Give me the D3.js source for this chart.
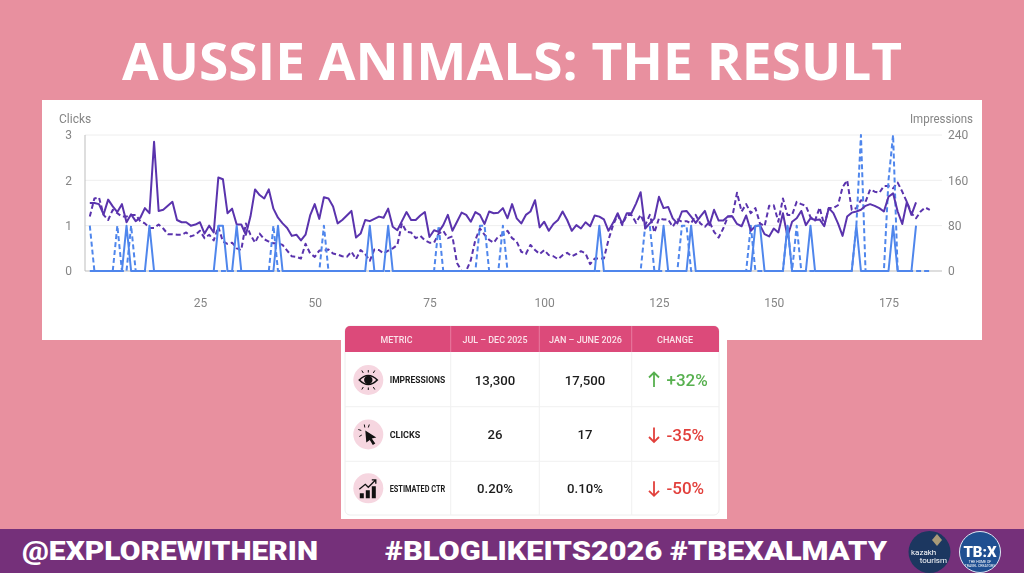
<!DOCTYPE html>
<html><head><meta charset="utf-8">
<script src="https://cdn.jsdelivr.net/npm/d3@7/dist/d3.min.js"></script>
<style>
html,body{margin:0;padding:0;background:#e8909f;overflow:hidden}
svg{display:block}
text{font-family:Roboto,"Open Sans",sans-serif}
.soft{filter:blur(0.4px)}
</style></head><body><svg id="c" width="1024" height="573"></svg>
<script>
const impressionsCurrent=[120,120,118,100,126,114,104,118,86,100,88,94,111,102,228,106,108,115,122,90,86,86,80,82,86,66,80,68,165,162,102,110,82,82,64,96,144,134,128,144,110,94,84,76,62,64,54,64,98,118,92,130,128,114,84,90,98,106,59,
66,90,88,92,96,94,110,78,72,88,104,90,90,98,104,60,72,69,81,99,71,87,103,99,87,104,99,83,105,102,103,111,93,118,93,84,99,105,125,77,87,71,83,90,105,90,71,81,75,86,79,98,96,91,71,85,102,83,102,102,119,139,75,84,93,131,111,113,
93,84,105,106,96,85,96,106,81,108,89,89,96,96,83,79,98,71,79,81,65,61,75,68,102,61,87,93,106,81,93,90,91,79,111,102,84,62,96,103,105,108,115,118,115,111,105,131,137,105,83,122,99,121];
const impressionsPrevious=[96,128,130,99,90,108,102,96,96,99,99,88,84,76,76,82,75,65,65,64,64,68,61,64,71,58,64,54,78,52,48,50,40,37,84,64,50,66,56,52,49,49,46,36,26,25,22,48,31,25,36,36,38,31,29,26,25,34,21,37,
30,18,38,37,31,36,40,46,84,69,68,58,62,54,50,50,66,71,58,61,14,0,0,19,55,75,64,55,50,61,64,71,58,52,34,30,46,37,30,37,28,26,21,28,32,26,30,35,31,12,22,22,22,55,81,99,81,99,99,85,99,81,99,68,93,91,91,78,91,
87,88,84,99,84,78,87,69,59,75,96,97,138,105,118,102,111,84,79,115,116,87,128,99,99,122,118,115,95,89,112,81,111,111,116,148,160,108,111,125,122,144,140,138,150,150,146,156,140,122,102,93,105,112,108];
const clickDaysCurrent=[9,14,29,30,33,42,62,66,112,126,132,146,147,153,158,168,176,181];
const clickCountsCurrent=[1,1,1,1,1,1,1,1,1,1,1,1,1,1,1,1,1,1];
const clickDaysPrevious=[1,7,10,41,52,77,86,87,91,122,123,130,131,145,153,155,168,169,175,176];
const clickCountsPrevious=[1,1,1,1,1,1,1,1,1,1,1,1,1,1,1,1,1,3,2,3];
const xTicks=[25,50,75,100,125,150,175];
const clickTicks=[0,1,2,3];
const impressionTicks=[0,80,160,240];
const tableHeaders=["METRIC","JUL – DEC 2025","JAN – JUNE 2026","CHANGE"];
const metricNames=["IMPRESSIONS","CLICKS","ESTIMATED CTR"];
const periodOne=["13,300","26","0.20%"];
const periodTwo=["17,500","17","0.10%"];
const changes=["+32%","-35%","-50%"];

const svg=d3.select("#c");
svg.append("rect").attr("width",1024).attr("height",573).attr("fill","#e8909f");
svg.append("text").attr("x",512).attr("y",80).attr("text-anchor","middle").attr("fill","#fff")
  .attr("font-size",52).attr("font-weight",700).style("font-family","'Open Sans'")
  .attr("textLength",780).attr("lengthAdjust","spacingAndGlyphs").text("AUSSIE ANIMALS: THE RESULT");

svg.append("rect").attr("x",42).attr("y",100).attr("width",940).attr("height",240).attr("fill","#fff");
svg.append("rect").attr("x",341).attr("y",340).attr("width",386).attr("height",179).attr("fill","#fff");

const x=d3.scaleLinear().domain([1,184]).range([89.8,929.8]);
const yL=d3.scaleLinear().domain([0,3]).range([271,135]);
const yR=d3.scaleLinear().domain([0,240]).range([271,135]);
const gray="#858585";
const g=svg.append("g").attr("class","soft");
g.append("g").selectAll("line").data(clickTicks.slice(1)).join("line")
 .attr("x1",85).attr("x2",942).attr("y1",d=>yL(d)).attr("y2",d=>yL(d)).attr("stroke","#eeeeee").attr("stroke-width",1);
g.append("line").attr("x1",85).attr("x2",85).attr("y1",135).attr("y2",271).attr("stroke","#bdbdbd").attr("stroke-width",1);
g.append("line").attr("x1",85).attr("x2",942).attr("y1",271).attr("y2",271).attr("stroke","#bdbdbd").attr("stroke-width",1);

function axisStyle(sel){sel.select(".domain").remove();sel.selectAll("text").attr("fill",gray).attr("font-size",12).style("font-family","Roboto");}
g.append("g").attr("transform","translate(85,0)").call(d3.axisLeft(yL).tickValues(clickTicks).tickSize(0).tickPadding(13).tickFormat(d3.format("d"))).call(axisStyle);
g.append("g").attr("transform","translate(942,0)").call(d3.axisRight(yR).tickValues(impressionTicks).tickSize(0).tickPadding(6).tickFormat(d3.format("d"))).call(axisStyle);
g.append("g").attr("transform","translate(0,271)").call(d3.axisBottom(x).tickValues(xTicks).tickSize(0).tickPadding(27).tickFormat(d3.format("d"))).call(axisStyle);
g.append("text").attr("x",59).attr("y",122.5).attr("fill",gray).attr("font-size",12).text("Clicks");
g.append("text").attr("x",910).attr("y",122.5).attr("fill",gray).attr("font-size",12).attr("textLength",63).attr("lengthAdjust","spacingAndGlyphs").text("Impressions");

const blue="#4f86ec",purple="#5a33ad";
const lineL=d3.line().x((d,i)=>x(i+1)).y(d=>yL(d));
const lineR=d3.line().x((d,i)=>x(i+1)).y(d=>yR(d));
const expand=(days,counts,n)=>d3.range(1,n+1).map(d=>{const k=days.indexOf(d);return k<0?0:counts[k];});
const clicksCurrent=expand(clickDaysCurrent,clickCountsCurrent,181);
const clicksPrevious=expand(clickDaysPrevious,clickCountsPrevious,184);
const marks=g.append("g").attr("fill","none").attr("stroke-linejoin","round");
marks.append("path").attr("d",lineR(impressionsPrevious)).attr("stroke",purple).attr("stroke-width",2).attr("stroke-dasharray","5,3");
marks.append("path").attr("d",lineL(clicksPrevious)).attr("stroke",blue).attr("stroke-width",2).attr("stroke-dasharray","5,3");
marks.append("path").attr("d",lineR(impressionsCurrent)).attr("stroke",purple).attr("stroke-width",2);
marks.append("path").attr("d",lineL(clicksCurrent)).attr("stroke",blue).attr("stroke-width",2);

const cols=[345,450.7,539.3,631.7,719];
const rowsY=[352,406.7,461.3,515];
const tg=svg.append("g").attr("class","soft");
tg.append("rect").attr("x",345).attr("y",326).attr("width",374).attr("height",189).attr("rx",5).attr("fill","#fff").attr("stroke","#eeeeee");
tg.append("path").attr("d","M345 352V331a5 5 0 0 1 5-5H714a5 5 0 0 1 5 5V352Z").attr("fill","#dc4a7a");
cols.slice(1,4).forEach(c=>{
  tg.append("line").attr("x1",c).attr("x2",c).attr("y1",326).attr("y2",352).attr("stroke","#e87a9f");
  tg.append("line").attr("x1",c).attr("x2",c).attr("y1",352).attr("y2",515).attr("stroke","#f0f0f0");
});
rowsY.slice(1,3).forEach(r=>tg.append("line").attr("x1",345).attr("x2",719).attr("y1",r).attr("y2",r).attr("stroke","#f0f0f0"));
const colCenters=[396.5,495,585.5,675];
const headerWidths=[32,65,73,36];
tableHeaders.forEach((t,i)=>tg.append("text").attr("x",colCenters[i]).attr("y",339.5).attr("dy","0.35em").attr("text-anchor","middle")
  .attr("fill","#fbe3ea").attr("font-size",9.8).attr("font-weight",500).attr("textLength",headerWidths[i]).attr("lengthAdjust","spacingAndGlyphs").text(t));
const rowMid=[380,434.5,488.3];
metricNames.forEach((t,i)=>{
  const y=rowMid[i];
  tg.append("circle").attr("cx",368.3).attr("cy",y).attr("r",15).attr("fill","#f6d6e0");
  tg.append("text").attr("x",389.7).attr("y",y).attr("dy","0.35em").attr("fill","#1c1c1c").attr("font-size",9.8).attr("font-weight",700)
    .attr("textLength",i==1?30.5:55.5).attr("lengthAdjust","spacingAndGlyphs").text(t);
  tg.append("text").attr("x",colCenters[1]).attr("y",y).attr("dy","0.36em").attr("text-anchor","middle").attr("fill","#1c1c1c").attr("font-size",13.2).attr("font-weight",500).text(periodOne[i]);
  tg.append("text").attr("x",colCenters[2]-0.5).attr("y",y).attr("dy","0.36em").attr("text-anchor","middle").attr("fill","#1c1c1c").attr("font-size",13.2).attr("font-weight",500).text(periodTwo[i]);
  const col=i==0?"#57b04f":"#e2403c";
  tg.append("text").attr("x",666.5).attr("y",y).attr("dy","0.36em").attr("fill",col).attr("font-size",17).attr("font-weight",500).text(changes[i]);
  const up=i==0;
  tg.append("path").attr("d",up?`M654 ${y-7.5}V${y+7} M649 ${y-2.5}L654 ${y-7.5}L659 ${y-2.5}`:`M654 ${y-7}V${y+7.5} M649 ${y+2.5}L654 ${y+7.5}L659 ${y+2.5}`)
    .attr("fill","none").attr("stroke",col).attr("stroke-width",1.8);
});
const ink="#111";
const eye=tg.append("g").attr("transform","translate(368.3,380)");
eye.append("path").attr("d","M-9 0Q0 -9 9 0Q0 9 -9 0Z").attr("fill","none").attr("stroke",ink).attr("stroke-width",1.6);
eye.append("circle").attr("r",4.2).attr("fill",ink);
eye.append("path").attr("d","M0 -7.5V-10M-5 -7L-6.5 -9.5M5 -7L6.5 -9.5M0 7.5V10M-5 7L-6.5 9.5M5 7L6.5 9.5").attr("stroke",ink).attr("stroke-width",1);
const cur=tg.append("g").attr("transform","translate(368.3,434.5)");
cur.append("path").attr("d","M-3 -4L8 3L3.5 4L7 9L4.5 10.5L1.5 5.5L-2 8Z").attr("fill",ink);
cur.append("path").attr("d","M-4 -10L-3.5 -7M-10 -5L-7 -4M-9 2L-6.5 0.5M1 -10L0 -7").attr("stroke",ink).attr("stroke-width",1);
const ch=tg.append("g").attr("transform","translate(368.3,488.3)");
ch.append("path").attr("d","M-8.5 5h4v5h-4ZM-2.5 2h4v8h-4ZM3.5 -2h4v12h-4Z").attr("fill",ink);
ch.append("path").attr("d","M-9 1L-3 -4L0 -1L7 -8M3.5 -8.5H7.5V-4.5").attr("fill","none").attr("stroke",ink).attr("stroke-width",1.3);

svg.append("rect").attr("y",529).attr("width",1024).attr("height",44).attr("fill","#75307a");
const foot=(t,x0,len)=>svg.append("text").attr("x",x0).attr("y",560).attr("fill","#fff").attr("font-size",26).attr("font-weight",900)
  .style("font-family","Roboto").attr("textLength",len).attr("lengthAdjust","spacingAndGlyphs").text(t);
foot("@EXPLOREWITHERIN",22,296);
foot("#BLOGLIKEITS2026 #TBEXALMATY",385,502);
const lg=svg.append("g").attr("class","soft");
lg.append("circle").attr("cx",929.5).attr("cy",552).attr("r",21).attr("fill","#1c3760");
lg.append("path").attr("d","M937 534l5 6-5 6-5-6Z").attr("fill","#a99a78");
lg.append("text").attr("x",911).attr("y",555).attr("fill","#fff").attr("font-size",8).text("kazakh");
lg.append("text").attr("x",947).attr("y",563).attr("text-anchor","end").attr("fill","#fff").attr("font-size",8).text("tourism");
lg.append("circle").attr("cx",980).attr("cy",552).attr("r",20.5).attr("fill","#1f4f91").attr("stroke","#dfe8f3").attr("stroke-width",1);
lg.append("text").attr("x",980).attr("y",557).attr("text-anchor","middle").attr("fill","#fff").attr("font-size",15).attr("font-weight",900).text("TB:X");
lg.append("text").attr("x",980).attr("y",563).attr("text-anchor","middle").attr("fill","#fff").attr("font-size",3.5).text("THE HOME OF");
lg.append("text").attr("x",980).attr("y",567).attr("text-anchor","middle").attr("fill","#fff").attr("font-size",3.5).text("TRAVEL CREATORS");
</script></body></html>
